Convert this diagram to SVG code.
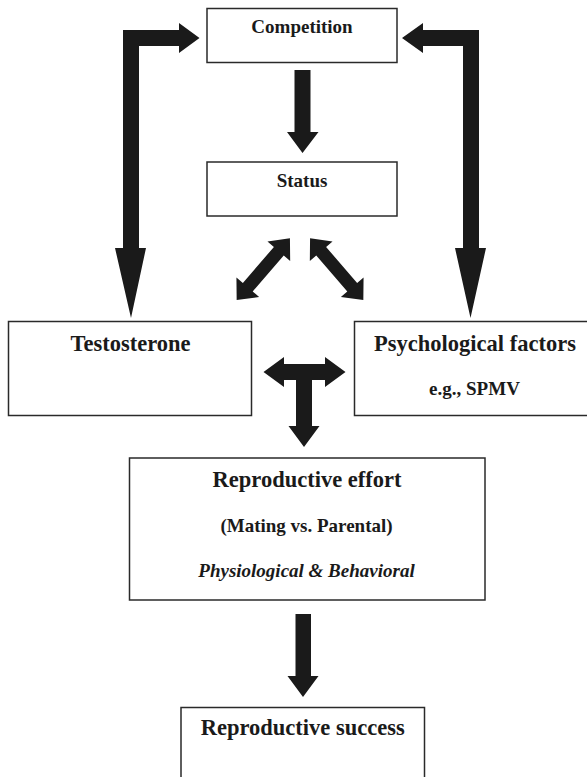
<svg xmlns="http://www.w3.org/2000/svg" width="587" height="777" viewBox="0 0 587 777">
<style>
.box{fill:#fff;stroke:#2a2a2a;stroke-width:1.5}
.t{font-family:"Liberation Serif","Times New Roman",serif;font-weight:bold;fill:#1a1a1a;text-anchor:middle}
.big{font-size:22.5px}
.sm{font-size:19px}
.it{font-style:italic}
.arr{fill:#1a1a1a}
</style>
<rect width="587" height="777" fill="#fff"/>
<g id="competition">
<rect class="box" x="207" y="8.5" width="190" height="54"/>
<text class="t sm" x="302" y="33.3">Competition</text>
</g>
<g id="status">
<rect class="box" x="207" y="162" width="190" height="54"/>
<text class="t sm" x="302" y="187">Status</text>
</g>
<g id="testosterone">
<rect class="box" x="8.5" y="321.5" width="243" height="94"/>
<text class="t big" x="130.5" y="350.7">Testosterone</text>
</g>
<g id="psychological">
<rect class="box" x="354.5" y="321.5" width="260" height="94"/>
<text class="t big" x="475" y="350.7">Psychological factors</text>
<text class="t sm" x="474.5" y="395">e.g., SPMV</text>
</g>
<g id="effort">
<rect class="box" x="129.5" y="458" width="355.5" height="142"/>
<text class="t big" x="307" y="486.7">Reproductive effort</text>
<text class="t sm" x="306.5" y="532">(Mating vs. Parental)</text>
<text class="t sm it" x="306.5" y="576.7">Physiological &amp; Behavioral</text>
</g>
<g id="success">
<rect class="box" x="181" y="707.5" width="243.5" height="100"/>
<text class="t big" x="302.7" y="735">Reproductive success</text>
</g>
<g id="connectors">
<polygon class="arr" points="123,248 115,248 131,318 146,248 139,248 139,46 179,46 179,53 199.5,38 179,23 179,30 123,30"/>
<polygon class="arr" points="479,30 423,30 423,23 402,38 423,53 423,46 463,46 463,248 455,248 470.5,318 486,248 479,248"/>
<polygon class="arr" points="294.5,70 310.5,70 310.5,132 318.5,132 302.5,153 287,132 294.5,132"/>
<polygon class="arr" points="-40.75,0 -23.75,-15 -23.75,-6.5 23.75,-6.5 23.75,-15 40.75,0 23.75,15 23.75,6.5 -23.75,6.5 -23.75,15" transform="translate(263.3 269.2) rotate(-49.2)"/>
<polygon class="arr" points="-40.75,0 -23.75,-15 -23.75,-6.5 23.75,-6.5 23.75,-15 40.75,0 23.75,15 23.75,6.5 -23.75,6.5 -23.75,15" transform="translate(336.7 269.2) rotate(49.2)"/>
<polygon class="arr" points="263.5,372 284,357 284,364 325,364 325,357 345.5,372 325,387 325,380 312,380 312,426 319.5,426 304,447 288.5,426 296,426 296,380 284,380 284,387"/>
<polygon class="arr" points="295.5,614 311,614 311,676 318.5,676 303,697 287.5,676 295.5,676"/>
</g>
</svg>
